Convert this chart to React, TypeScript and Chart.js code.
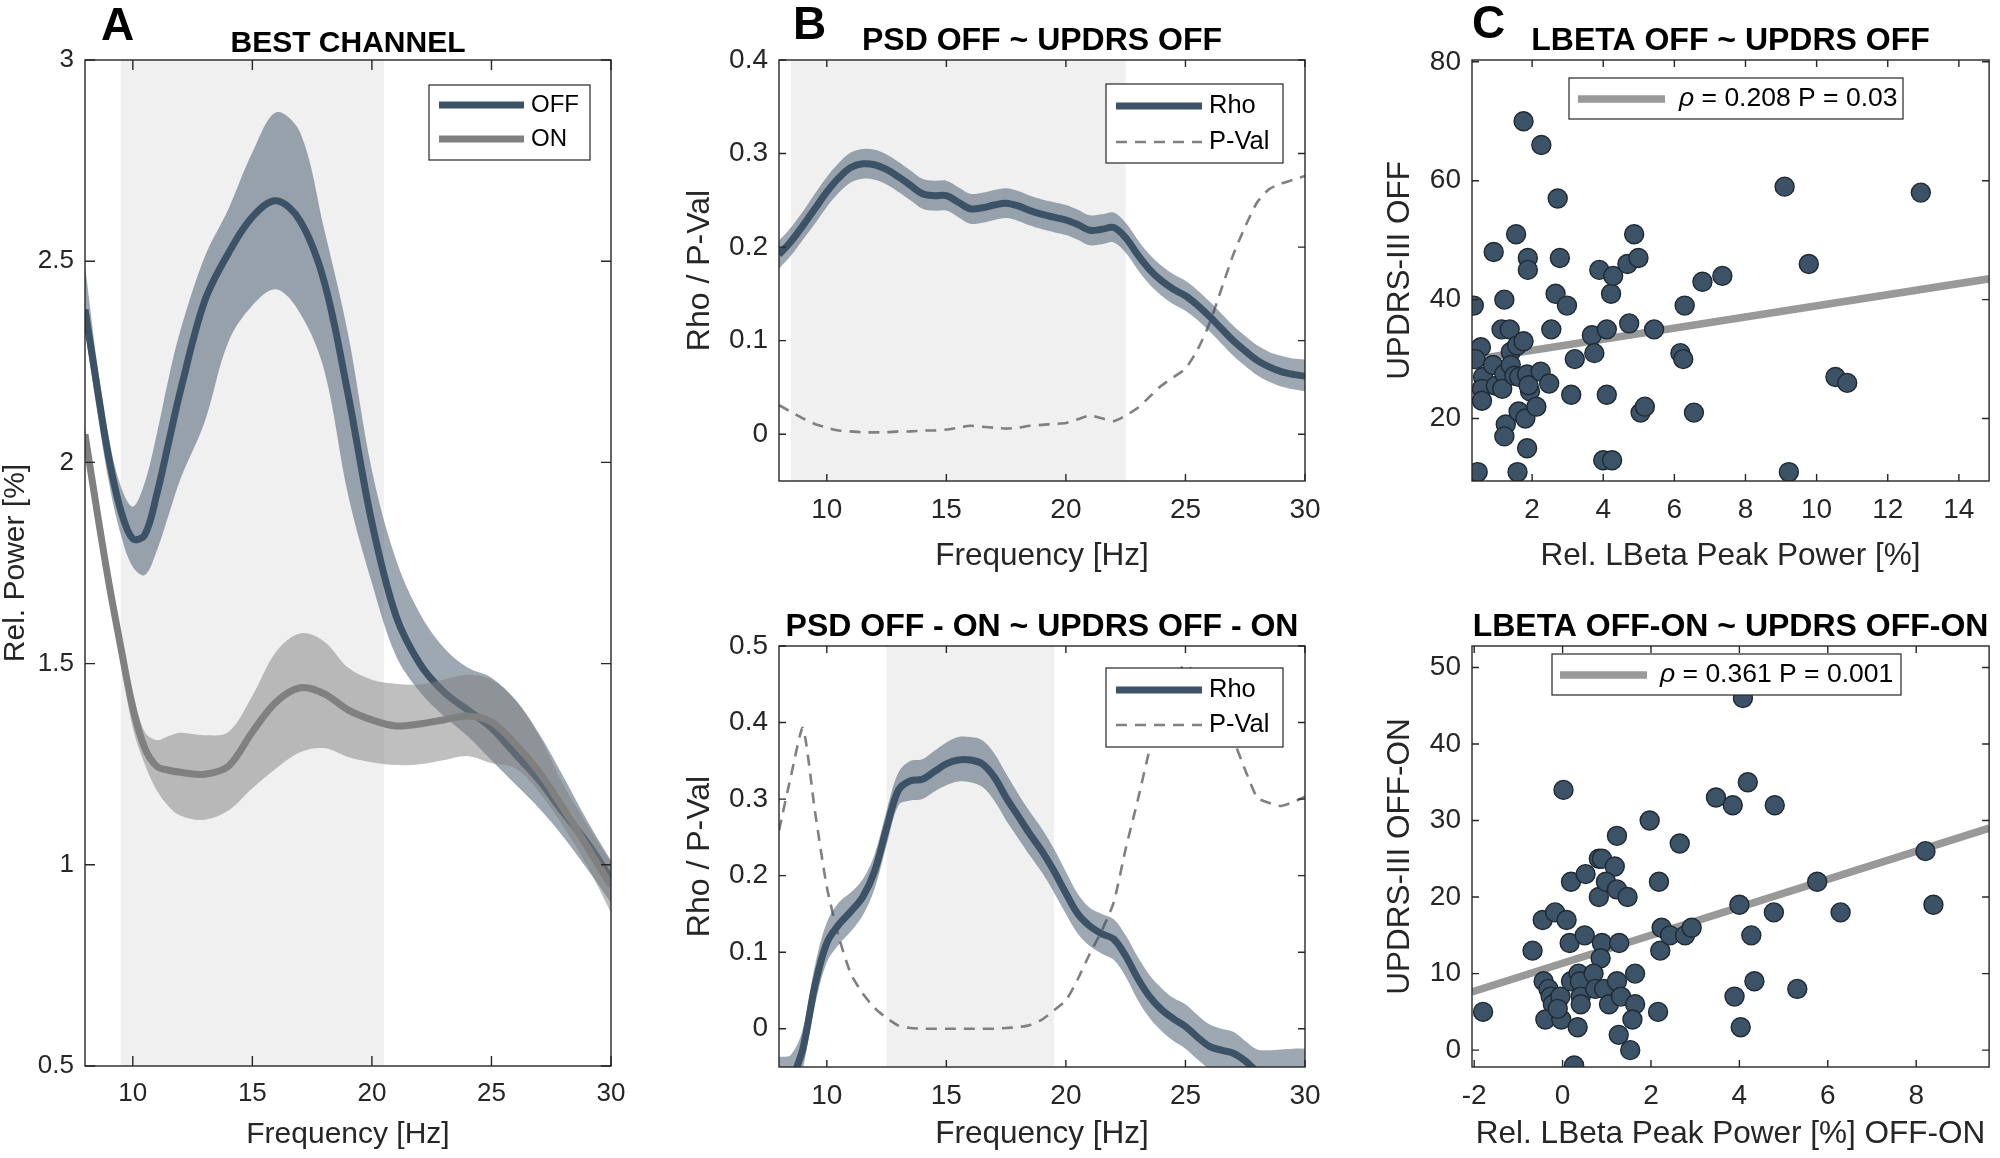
import React, { useEffect, useRef } from "react";
import { Chart, registerables } from "chart.js";

Chart.register(...registerables);

// ---------------- shared style ----------------
const FONT = '"Liberation Sans", Arial, Helvetica, sans-serif';
const INK = "#262626";
const OFF_BLUE = "#3c5266";
const OFF_BAND = "rgba(60, 82, 102, 0.5)";
const ON_GRAY = "#808080";
const ON_BAND = "rgba(128, 128, 128, 0.5)";
const SHADE = "#f0f0f0";
const TREND_GRAY = "#999999";
const PVAL_GRAY = "#808080";

// ---------------- panel A: best channel PSD ----------------
const FREQ_A = [8, 8.5, 9, 9.5, 10, 10.5, 11, 11.5, 12, 13, 14, 15, 16, 17, 18, 19, 20, 21, 22, 23, 24, 25, 26, 27, 28, 29, 30];
const OFF_MEAN = [2.38, 2.19, 2.01, 1.88, 1.81, 1.82, 1.92, 2.05, 2.18, 2.4, 2.52, 2.61, 2.65, 2.6, 2.45, 2.17, 1.85, 1.62, 1.5, 1.43, 1.385, 1.34, 1.275, 1.21, 1.13, 1.055, 0.965];
const OFF_HI = [2.49, 2.25, 2.06, 1.94, 1.89, 1.95, 2.07, 2.21, 2.33, 2.51, 2.63, 2.77, 2.87, 2.82, 2.58, 2.32, 1.98, 1.76, 1.625, 1.54, 1.49, 1.465, 1.41, 1.325, 1.22, 1.11, 1.01];
const OFF_LO = [2.33, 2.13, 1.95, 1.82, 1.74, 1.72, 1.78, 1.87, 1.96, 2.1, 2.3, 2.39, 2.43, 2.37, 2.23, 1.92, 1.7, 1.52, 1.43, 1.37, 1.32, 1.26, 1.2, 1.14, 1.07, 0.99, 0.905];
const ON_MEAN = [2.07, 1.88, 1.7, 1.54, 1.39, 1.29, 1.245, 1.235, 1.23, 1.225, 1.245, 1.33, 1.405, 1.44, 1.425, 1.385, 1.36, 1.345, 1.35, 1.36, 1.37, 1.355, 1.3, 1.23, 1.14, 1.045, 0.948];
const ON_HI = [2.09, 1.9, 1.73, 1.57, 1.43, 1.33, 1.31, 1.32, 1.328, 1.322, 1.33, 1.42, 1.53, 1.575, 1.555, 1.49, 1.46, 1.45, 1.448, 1.46, 1.472, 1.46, 1.41, 1.32, 1.2, 1.1, 1.006];
const ON_LO = [2.05, 1.86, 1.67, 1.5, 1.34, 1.25, 1.185, 1.145, 1.122, 1.112, 1.135, 1.19, 1.24, 1.28, 1.29, 1.268, 1.255, 1.248, 1.25, 1.26, 1.27, 1.253, 1.24, 1.18, 1.095, 0.998, 0.88];
const FREQ_TICKS = [10, 15, 20, 25, 30];
const POWER_TICKS = [0.5, 1, 1.5, 2, 2.5, 3];

// ---------------- panel B: spectral correlation with UPDRS ----------------
const FREQ_B = [8, 8.5, 9, 9.5, 10, 10.5, 11, 11.5, 12, 12.5, 13, 13.5, 14, 14.5, 15, 15.5, 16, 16.5, 17, 17.5, 18, 18.5, 19, 19.5, 20, 20.5, 21, 21.5, 22, 22.5, 23, 23.5, 24, 24.5, 25, 25.5, 26, 26.5, 27, 27.5, 28, 28.5, 29, 29.5, 30];
const RHO_OFF = [0.192, 0.206, 0.223, 0.241, 0.259, 0.274, 0.285, 0.289, 0.288, 0.283, 0.275, 0.266, 0.257, 0.255, 0.255, 0.248, 0.241, 0.242, 0.245, 0.247, 0.244, 0.239, 0.235, 0.232, 0.229, 0.224, 0.218, 0.219, 0.221, 0.21, 0.192, 0.176, 0.164, 0.155, 0.148, 0.138, 0.126, 0.113, 0.1, 0.089, 0.079, 0.072, 0.067, 0.064, 0.062];
const RHO_OFF_HI = [0.207, 0.221, 0.238, 0.257, 0.275, 0.29, 0.301, 0.305, 0.304, 0.299, 0.291, 0.282, 0.273, 0.271, 0.271, 0.264, 0.257, 0.258, 0.261, 0.263, 0.26, 0.255, 0.251, 0.248, 0.245, 0.24, 0.234, 0.235, 0.237, 0.226, 0.208, 0.192, 0.18, 0.171, 0.164, 0.154, 0.142, 0.129, 0.116, 0.105, 0.095, 0.088, 0.084, 0.081, 0.08];
const RHO_OFF_LO = [0.177, 0.191, 0.208, 0.225, 0.243, 0.258, 0.269, 0.273, 0.272, 0.267, 0.259, 0.25, 0.241, 0.239, 0.239, 0.232, 0.225, 0.226, 0.229, 0.231, 0.228, 0.223, 0.219, 0.216, 0.213, 0.208, 0.202, 0.203, 0.205, 0.194, 0.176, 0.16, 0.148, 0.139, 0.132, 0.122, 0.11, 0.097, 0.084, 0.073, 0.063, 0.056, 0.051, 0.048, 0.046];
const PVAL_OFF = [0.031, 0.024, 0.017, 0.011, 0.007, 0.004, 0.003, 0.002, 0.002, 0.002, 0.003, 0.003, 0.004, 0.004, 0.005, 0.007, 0.009, 0.008, 0.007, 0.006, 0.007, 0.009, 0.01, 0.011, 0.012, 0.016, 0.02, 0.017, 0.014, 0.02, 0.028, 0.04, 0.052, 0.061, 0.07, 0.09, 0.118, 0.155, 0.192, 0.222, 0.248, 0.262, 0.268, 0.272, 0.276];

const RHO_DIFF = [-0.11, -0.07, -0.026, 0.056, 0.112, 0.136, 0.153, 0.172, 0.206, 0.262, 0.312, 0.324, 0.326, 0.336, 0.346, 0.351, 0.351, 0.346, 0.329, 0.302, 0.278, 0.254, 0.232, 0.206, 0.177, 0.15, 0.134, 0.124, 0.117, 0.095, 0.066, 0.042, 0.025, 0.013, 0.003, -0.011, -0.023, -0.028, -0.032, -0.042, -0.056, -0.066, -0.072, -0.076, -0.078];
const RHO_DIFF_HI = [-0.037, -0.034, 0.0, 0.082, 0.139, 0.165, 0.178, 0.195, 0.228, 0.285, 0.335, 0.35, 0.352, 0.363, 0.374, 0.381, 0.381, 0.377, 0.36, 0.333, 0.307, 0.283, 0.261, 0.235, 0.205, 0.176, 0.158, 0.15, 0.143, 0.122, 0.094, 0.07, 0.053, 0.04, 0.032, 0.018, 0.006, 0.0, -0.004, -0.016, -0.027, -0.028, -0.027, -0.026, -0.026];
const RHO_DIFF_LO = [-0.18, -0.11, -0.052, 0.03, 0.087, 0.11, 0.127, 0.148, 0.183, 0.24, 0.292, 0.298, 0.3, 0.31, 0.318, 0.323, 0.322, 0.316, 0.298, 0.272, 0.249, 0.226, 0.204, 0.178, 0.15, 0.124, 0.108, 0.098, 0.09, 0.068, 0.038, 0.014, -0.003, -0.016, -0.026, -0.04, -0.052, -0.058, -0.062, -0.072, -0.086, -0.1, -0.11, -0.115, -0.12];
const PVAL_DIFF = [0.259, 0.33, 0.393, 0.285, 0.185, 0.12, 0.072, 0.046, 0.027, 0.014, 0.004, 0.001, 0.0, 0.0, 0.0, 0.0, 0.0, 0.0, 0.0, 0.001, 0.002, 0.005, 0.012, 0.024, 0.037, 0.065, 0.098, 0.128, 0.165, 0.235, 0.298, 0.365, 0.425, 0.46, 0.475, 0.462, 0.443, 0.414, 0.378, 0.338, 0.302, 0.295, 0.291, 0.296, 0.303];
const RHO_TICKS_TOP = [0, 0.1, 0.2, 0.3, 0.4];
const RHO_TICKS_BOTTOM = [0, 0.1, 0.2, 0.3, 0.4, 0.5];

// ---------------- panel C: low-beta peak power vs UPDRS-III ----------------
const LBETA_OFF = [0.36, 0.47, 0.56, 0.41, 0.62, 0.59, 0.59, 0.92, 0.9, 0.98, 1.14, 1.22, 1.26, 1.22, 1.22, 1.16, 1.37, 1.4, 1.4, 1.5, 1.55, 1.58, 1.64, 1.76, 1.76, 1.62, 1.59, 1.81, 1.88, 1.88, 1.86, 1.86, 1.94, 1.9, 2.12, 2.24, 2.26, 2.48, 2.54, 2.72, 2.78, 2.66, 2.98, 3.2, 3.1, 3.68, 3.75, 3.89, 4.0, 4.1, 4.1, 4.22, 4.28, 4.25, 4.68, 4.73, 4.87, 4.99, 5.05, 5.17, 5.43, 6.17, 6.25, 6.29, 6.55, 6.79, 7.35, 9.1, 9.22, 9.78, 10.53, 10.86, 12.93];
const UPDRS_OFF = [39, 11, 32, 30, 27, 25, 23, 48, 29, 25.5, 35, 40, 19, 17, 27.5, 25, 35, 31.2, 29, 27.2, 51, 32.3, 27, 70, 33, 21.2, 11, 20, 47, 45, 15, 27.4, 24.6, 25.6, 22, 27.9, 66, 25.9, 35, 57, 47, 41, 39, 30, 24, 34, 31, 45, 13, 35, 24, 41, 44, 13, 46, 36, 51, 47, 21, 22, 35, 31, 30, 39, 21, 43, 44, 59, 11, 46, 27, 26, 58];
const TREND_OFF_X = [0.31, 14.85];
const TREND_OFF_Y = [29.9, 43.5];

const LBETA_DIFF = [-1.8, -0.68, -0.45, -0.17, 0.09, 0.02, 0.19, 0.16, 0.52, 0.5, 0.82, 0.89, 0.82, 1.18, 0.98, 1.23, 1.23, 1.47, 0.89, 1.28, 0.86, -0.43, -0.32, -0.27, -0.22, -0.39, -0.05, -0.03, -0.11, 0.19, 0.36, 0.39, 0.41, 0.41, 0.34, 0.26, 0.7, 0.74, 0.94, 1.05, 1.23, 1.32, 1.27, 1.53, 1.64, 1.64, 1.58, 1.97, 2.18, 2.24, 2.21, 2.16, 2.43, 2.65, 2.77, 2.92, 3.47, 3.85, 4.08, 4.19, 4.0, 4.27, 4.34, 3.89, 4.03, 4.8, 4.78, 5.31, 5.76, 6.29, 8.21, 8.39];
const UPDRS_DIFF = [5, 13, 17, 18, 17, 34, 22, 14, 23, 15, 25, 25, 20, 24, 22, 21, 28, 20, 14, 14, 12, 9, 8, 7, 6, 4, 7, 4, 5.4, 9, 10, 9, 7, 6, 3, -2, 10, 8, 8, 6, 9, 7, 2, 0, 10, 6, 4, 30, 22, 16, 13, 5, 15, 27, 15, 16, 33, 32, 46, 35, 19, 15, 9, 7, 3, 32, 18, 8, 22, 18, 26, 19];
const TREND_DIFF_X = [-2.05, 9.65];
const TREND_DIFF_Y = [7.6, 29.0];

const LBETA_TICKS_OFF = [2, 4, 6, 8, 10, 12, 14];
const UPDRS_TICKS_OFF = [20, 40, 60, 80];
const LBETA_TICKS_DIFF = [-2, 0, 2, 4, 6, 8];
const UPDRS_TICKS_DIFF = [0, 10, 20, 30, 40, 50];

// ---------------- helpers ----------------
const pts = (xs: number[], ys: number[]) => xs.map((x, i) => ({ x, y: ys[i] }));

type Rect = { left: number; top: number; width: number; height: number };
type Area = { left: number; top: number; right: number; bottom: number };
type LegendRow = {
  parts: { text: string; italic?: boolean }[];
  color: string;
  width: number;
  dash?: number[];
  y: number;
};
type Legend = {
  box: Rect;
  sampleX0: number;
  sampleX1: number;
  textX: number;
  rows: LegendRow[];
};
type Fonts = { tick: number; label: number; title: number; legend: number };
type Panel = {
  canvas: Rect;
  area: Area;
  fonts: Fonts;
  xRange: [number, number];
  yRange: [number, number];
  xTicks: number[];
  yTicks: number[];
  tickLen: number;
  band?: [number, number];
  letter?: { text: string; x: number; y: number };
  title: { text: string; y: number };
  xTitle: { text: string; y: number };
  yTitle: { text: string; x: number; size?: number };
  legend: Legend;
  datasets: any[];
  chartType: "line" | "scatter";
};

function framePlugin(p: Panel) {
  return {
    id: "frame",
    beforeDatasetsDraw(chart: any) {
      if (!p.band) return;
      const { ctx, chartArea: a, scales } = chart;
      const x0 = scales.x.getPixelForValue(p.band[0]);
      const x1 = scales.x.getPixelForValue(p.band[1]);
      ctx.save();
      ctx.fillStyle = SHADE;
      ctx.fillRect(x0, a.top, x1 - x0, a.bottom - a.top);
      ctx.restore();
    },
    afterDatasetsDraw(chart: any) {
      const { ctx, chartArea: a, scales } = chart;
      ctx.save();

      // legend box with line samples
      const lg = p.legend;
      const ox = p.canvas.left;
      const oy = p.canvas.top;
      ctx.fillStyle = "#ffffff";
      ctx.fillRect(lg.box.left - ox, lg.box.top - oy, lg.box.width, lg.box.height);
      ctx.strokeStyle = INK;
      ctx.lineWidth = 1.2;
      ctx.strokeRect(lg.box.left - ox, lg.box.top - oy, lg.box.width, lg.box.height);
      for (const r of lg.rows) {
        ctx.beginPath();
        ctx.strokeStyle = r.color;
        ctx.lineWidth = r.width;
        ctx.setLineDash(r.dash || []);
        ctx.lineCap = "butt";
        ctx.moveTo(lg.sampleX0 - ox, r.y - oy);
        ctx.lineTo(lg.sampleX1 - ox, r.y - oy);
        ctx.stroke();
        ctx.setLineDash([]);
        let tx = lg.textX - ox;
        ctx.fillStyle = "#000000";
        ctx.textBaseline = "middle";
        ctx.textAlign = "left";
        for (const part of r.parts) {
          ctx.font = `${part.italic ? "italic " : ""}${p.fonts.legend}px ${FONT}`;
          ctx.fillText(part.text, tx, r.y - oy);
          tx += ctx.measureText(part.text).width;
        }
      }

      // axes box and inward ticks on all four sides
      ctx.strokeStyle = INK;
      ctx.lineWidth = 1.4;
      ctx.strokeRect(a.left, a.top, a.right - a.left, a.bottom - a.top);
      ctx.beginPath();
      const L = p.tickLen;
      for (const v of p.xTicks) {
        const px = scales.x.getPixelForValue(v);
        ctx.moveTo(px, a.bottom);
        ctx.lineTo(px, a.bottom - L);
        ctx.moveTo(px, a.top);
        ctx.lineTo(px, a.top + L);
      }
      for (const v of p.yTicks) {
        const py = scales.y.getPixelForValue(v);
        ctx.moveTo(a.left, py);
        ctx.lineTo(a.left + L, py);
        ctx.moveTo(a.right, py);
        ctx.lineTo(a.right - L, py);
      }
      ctx.stroke();

      // titles and axis labels
      const cx = (a.left + a.right) / 2;
      ctx.fillStyle = "#000000";
      ctx.textAlign = "center";
      ctx.textBaseline = "alphabetic";
      ctx.font = `bold ${p.fonts.title}px ${FONT}`;
      ctx.fillText(p.title.text, cx, p.title.y - oy);
      if (p.letter) {
        ctx.textAlign = "left";
        ctx.font = `bold 46px ${FONT}`;
        ctx.fillText(p.letter.text, p.letter.x - ox, p.letter.y - oy);
      }
      ctx.fillStyle = INK;
      ctx.textAlign = "center";
      ctx.textBaseline = "middle";
      ctx.font = `${p.fonts.label}px ${FONT}`;
      ctx.fillText(p.xTitle.text, cx, p.xTitle.y - oy);
      ctx.save();
      ctx.translate(p.yTitle.x - ox, (a.top + a.bottom) / 2);
      ctx.rotate(-Math.PI / 2);
      ctx.font = `${p.yTitle.size ?? p.fonts.label}px ${FONT}`;
      ctx.fillText(p.yTitle.text, 0, 0);
      ctx.restore();

      ctx.restore();
    },
  };
}

function buildConfig(p: Panel): any {
  const ml = p.area.left - p.canvas.left;
  const mt = p.area.top - p.canvas.top;
  const mr = p.canvas.left + p.canvas.width - p.area.right;
  const mb = p.canvas.top + p.canvas.height - p.area.bottom;
  const tickFont = { family: FONT, size: p.fonts.tick };
  const fmt = (v: number | string) => String(v);
  return {
    type: p.chartType,
    data: { datasets: p.datasets },
    options: {
      animation: false,
      responsive: false,
      events: [],
      layout: { padding: { left: 0, top: mt, right: mr, bottom: 0 } },
      plugins: { legend: { display: false }, tooltip: { enabled: false }, title: { display: false } },
      scales: {
        x: {
          type: "linear",
          position: "bottom",
          min: p.xRange[0],
          max: p.xRange[1],
          afterBuildTicks: (s: any) => {
            s.ticks = p.xTicks.map((v) => ({ value: v }));
          },
          afterFit: (s: any) => {
            s.height = mb;
          },
          grid: { display: false, drawTicks: false, tickLength: 0 },
          border: { display: false },
          ticks: { font: tickFont, color: INK, padding: 12, maxRotation: 0, autoSkip: false, callback: fmt },
        },
        y: {
          type: "linear",
          position: "left",
          min: p.yRange[0],
          max: p.yRange[1],
          afterBuildTicks: (s: any) => {
            s.ticks = p.yTicks.map((v) => ({ value: v }));
          },
          afterFit: (s: any) => {
            s.width = ml;
          },
          grid: { display: false, drawTicks: false, tickLength: 0 },
          border: { display: false },
          ticks: { font: tickFont, color: INK, padding: 11, autoSkip: false, callback: fmt },
        },
      },
    },
    plugins: [framePlugin(p)],
  };
}

function meanLine(label: string, xs: number[], ys: number[], color: string, order: number) {
  return {
    type: "line",
    label,
    data: pts(xs, ys),
    borderColor: color,
    borderWidth: 7,
    pointRadius: 0,
    tension: 0.35,
    fill: false,
    order,
    clip: 0,
  };
}

function bandPair(xs: number[], hi: number[], lo: number[], color: string, order: number) {
  return [
    {
      type: "line",
      label: "upper",
      data: pts(xs, hi),
      borderColor: "rgba(0,0,0,0)",
      borderWidth: 0,
      pointRadius: 0,
      tension: 0.35,
      fill: "+1",
      backgroundColor: color,
      order,
      clip: 0,
    },
    {
      type: "line",
      label: "lower",
      data: pts(xs, lo),
      borderColor: "rgba(0,0,0,0)",
      borderWidth: 0,
      pointRadius: 0,
      tension: 0.35,
      fill: false,
      order,
      clip: 0,
    },
  ];
}

function pvalLine(xs: number[], ys: number[]) {
  return {
    type: "line",
    label: "P-Val",
    data: pts(xs, ys),
    borderColor: PVAL_GRAY,
    borderWidth: 2.6,
    borderDash: [11, 8],
    pointRadius: 0,
    tension: 0.2,
    fill: false,
    order: 5,
    clip: 0,
  };
}

function scatterSet(xs: number[], ys: number[]) {
  return {
    type: "scatter",
    label: "patients",
    data: pts(xs, ys),
    backgroundColor: OFF_BLUE,
    borderColor: "#1f2a33",
    borderWidth: 1.4,
    pointRadius: 9.5,
    order: 1,
    clip: 0,
  };
}

function trendSet(xs: number[], ys: number[]) {
  return {
    type: "line",
    label: "fit",
    data: pts(xs, ys),
    borderColor: TREND_GRAY,
    borderWidth: 7.5,
    pointRadius: 0,
    fill: false,
    order: 2,
    clip: 0,
  };
}

const freqRows = (y1: number, y2: number, first: string, firstColor: string, second: string, secondColor: string, secondDash?: number[], secondWidth = 7): LegendRow[] => [
  { parts: [{ text: first }], color: firstColor, width: 7, y: y1 },
  { parts: [{ text: second }], color: secondColor, width: secondWidth, dash: secondDash, y: y2 },
];

const FONTS_A: Fonts = { tick: 26, label: 30, title: 30, legend: 24 };
const FONTS_BC: Fonts = { tick: 28, label: 31.5, title: 32, legend: 25.5 };

const PANELS: Panel[] = [
  {
    chartType: "line",
    canvas: { left: 0, top: 0, width: 700, height: 1158 },
    area: { left: 85, top: 60, right: 611, bottom: 1066 },
    fonts: FONTS_A,
    xRange: [8, 30],
    yRange: [0.5, 3],
    xTicks: FREQ_TICKS,
    yTicks: POWER_TICKS,
    tickLen: 10,
    band: [9.5, 20.5],
    letter: { text: "A", x: 101, y: 40 },
    title: { text: "BEST CHANNEL", y: 52 },
    xTitle: { text: "Frequency [Hz]", y: 1135 },
    yTitle: { text: "Rel. Power [%]", x: 16 },
    legend: {
      box: { left: 429, top: 85, width: 161, height: 75 },
      sampleX0: 439,
      sampleX1: 524,
      textX: 531,
      rows: freqRows(105, 139, "OFF", OFF_BLUE, "ON", ON_GRAY),
    },
    datasets: [
      meanLine("ON", FREQ_A, ON_MEAN, ON_GRAY, 1),
      ...bandPair(FREQ_A, ON_HI, ON_LO, ON_BAND, 2),
      meanLine("OFF", FREQ_A, OFF_MEAN, OFF_BLUE, 3),
      ...bandPair(FREQ_A, OFF_HI, OFF_LO, OFF_BAND, 4),
    ],
  },
  {
    chartType: "line",
    canvas: { left: 650, top: 0, width: 700, height: 580 },
    area: { left: 779, top: 60, right: 1305, bottom: 481 },
    fonts: FONTS_BC,
    xRange: [8, 30],
    yRange: [-0.05, 0.4],
    xTicks: FREQ_TICKS,
    yTicks: RHO_TICKS_TOP,
    tickLen: 7,
    band: [8.5, 22.5],
    letter: { text: "B", x: 793, y: 39 },
    title: { text: "PSD OFF ~ UPDRS OFF", y: 50 },
    xTitle: { text: "Frequency [Hz]", y: 556 },
    yTitle: { text: "Rho / P-Val", x: 700, size: 32 },
    legend: {
      box: { left: 1106, top: 84, width: 177, height: 79 },
      sampleX0: 1116,
      sampleX1: 1202,
      textX: 1209,
      rows: freqRows(106, 142, "Rho", OFF_BLUE, "P-Val", PVAL_GRAY, [11, 8], 2.6),
    },
    datasets: [
      meanLine("Rho", FREQ_B, RHO_OFF, OFF_BLUE, 1),
      ...bandPair(FREQ_B, RHO_OFF_HI, RHO_OFF_LO, OFF_BAND, 2),
      pvalLine(FREQ_B, PVAL_OFF),
    ],
  },
  {
    chartType: "line",
    canvas: { left: 650, top: 580, width: 700, height: 578 },
    area: { left: 779, top: 646, right: 1305, bottom: 1067 },
    fonts: FONTS_BC,
    xRange: [8, 30],
    yRange: [-0.05, 0.5],
    xTicks: FREQ_TICKS,
    yTicks: RHO_TICKS_BOTTOM,
    tickLen: 7,
    band: [12.5, 19.5],
    title: { text: "PSD OFF - ON ~ UPDRS OFF - ON", y: 636 },
    xTitle: { text: "Frequency [Hz]", y: 1134 },
    yTitle: { text: "Rho / P-Val", x: 700, size: 32 },
    legend: {
      box: { left: 1106, top: 668, width: 177, height: 79 },
      sampleX0: 1116,
      sampleX1: 1202,
      textX: 1209,
      rows: freqRows(690, 725, "Rho", OFF_BLUE, "P-Val", PVAL_GRAY, [11, 8], 2.6),
    },
    datasets: [
      meanLine("Rho", FREQ_B, RHO_DIFF, OFF_BLUE, 1),
      ...bandPair(FREQ_B, RHO_DIFF_HI, RHO_DIFF_LO, OFF_BAND, 2),
      pvalLine(FREQ_B, PVAL_DIFF),
    ],
  },
  {
    chartType: "scatter",
    canvas: { left: 1340, top: 0, width: 660, height: 580 },
    area: { left: 1472, top: 60, right: 1998, bottom: 481 },
    fonts: { ...FONTS_BC, legend: 26.5 },
    xRange: [0.31, 14.85],
    yRange: [9.5, 80.3],
    xTicks: LBETA_TICKS_OFF,
    yTicks: UPDRS_TICKS_OFF,
    tickLen: 7,
    letter: { text: "C", x: 1472, y: 38 },
    title: { text: "LBETA OFF ~ UPDRS OFF", y: 50 },
    xTitle: { text: "Rel. LBeta Peak Power [%]", y: 556 },
    yTitle: { text: "UPDRS-III OFF", x: 1400 },
    legend: {
      box: { left: 1569, top: 78, width: 334, height: 41 },
      sampleX0: 1578,
      sampleX1: 1665,
      textX: 1679,
      rows: [{ parts: [{ text: "ρ", italic: true }, { text: " = 0.208 P = 0.03" }], color: TREND_GRAY, width: 7.5, y: 99 }],
    },
    datasets: [scatterSet(LBETA_OFF, UPDRS_OFF), trendSet(TREND_OFF_X, TREND_OFF_Y)],
  },
  {
    chartType: "scatter",
    canvas: { left: 1340, top: 580, width: 660, height: 578 },
    area: { left: 1472, top: 646, right: 1998, bottom: 1067 },
    fonts: { ...FONTS_BC, legend: 26.5 },
    xRange: [-2.05, 9.65],
    yRange: [-2.2, 52.8],
    xTicks: LBETA_TICKS_DIFF,
    yTicks: UPDRS_TICKS_DIFF,
    tickLen: 7,
    title: { text: "LBETA OFF-ON ~ UPDRS OFF-ON", y: 636 },
    xTitle: { text: "Rel. LBeta Peak Power [%] OFF-ON", y: 1134 },
    yTitle: { text: "UPDRS-III OFF-ON", x: 1400 },
    legend: {
      box: { left: 1552, top: 654, width: 349, height: 41 },
      sampleX0: 1560,
      sampleX1: 1647,
      textX: 1660,
      rows: [{ parts: [{ text: "ρ", italic: true }, { text: " = 0.361 P = 0.001" }], color: TREND_GRAY, width: 7.5, y: 675 }],
    },
    datasets: [scatterSet(LBETA_DIFF, UPDRS_DIFF), trendSet(TREND_DIFF_X, TREND_DIFF_Y)],
  },
];

function PanelCanvas({ panel }: { panel: Panel }) {
  const ref = useRef<HTMLCanvasElement | null>(null);
  useEffect(() => {
    if (!ref.current) return;
    const chart = new Chart(ref.current, buildConfig(panel));
    return () => chart.destroy();
  }, [panel]);
  return (
    <canvas
      ref={ref}
      width={panel.canvas.width}
      height={panel.canvas.height}
      style={{
        position: "absolute",
        left: panel.canvas.left,
        top: panel.canvas.top,
        width: panel.canvas.width,
        height: panel.canvas.height,
      }}
    />
  );
}

export default function App() {
  return (
    <div
      style={{
        position: "absolute",
        left: 0,
        top: 0,
        width: 2000,
        height: 1158,
        background: "#ffffff",
        overflow: "hidden",
      }}
    >
      {PANELS.map((p, i) => (
        <PanelCanvas key={i} panel={p} />
      ))}
    </div>
  );
}
